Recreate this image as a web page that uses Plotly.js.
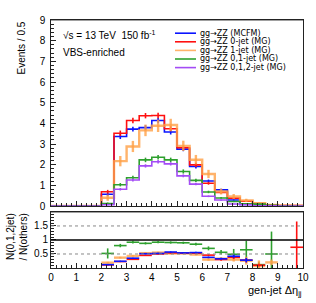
<!DOCTYPE html>
<html>
<head>
<meta charset="utf-8">
<script src="https://cdn.plot.ly/plotly-3.0.1.min.js"></script>
<style>html,body{margin:0;padding:0;background:#fff;}#chart{width:316px;height:303px;}</style>
</head>
<body>
<div id="chart"></div>
<script>
// ---- bins ----
const binEdges = [0,0.5,1,1.5,2,2.5,3,3.5,4,4.5,5,5.5,6,6.5,7,7.5,8,8.5,9,9.5,10];
const binCenters = [0.25,0.75,1.25,1.75,2.25,2.75,3.25,3.75,4.25,4.75,5.25,5.75,6.25,6.75,7.25,7.75,8.25,8.75,9.25,9.75];
const xTicks = [0,1,2,3,4,5,6,7,8,9,10];

// ---- upper panel: events / 0.5 ----
const seriesNames = ["gg\u2192ZZ (MCFM)","gg\u2192ZZ 0-jet (MG)","gg\u2192ZZ 1-jet (MG)","gg\u2192ZZ 0,1-jet (MG)","gg\u2192ZZ 0,1,2-jet (MG)"];
const mcfm      = [0,0,0,0,0.57,3.36,3.72,3.79,4.14,3.58,2.75,1.91,1.21,0.78,0.29,0.08,0.04,0.02,0.01,0.005];
const jet0      = [0,0,0,0,0.69,3.52,4.14,4.37,4.38,3.74,2.82,1.99,1.10,0.66,0.38,0.23,0.12,0.05,0.02,0.02];
const jet1      = [0,0,0,0,0.40,2.17,2.88,3.66,3.88,3.92,2.91,2.24,1.55,0.70,0.46,0.27,0.13,0.05,0.03,0.01];
const jet01     = [0,0,0,0,0.12,1.03,1.37,2.23,2.36,2.23,1.67,1.24,0.68,0.39,0.22,0.11,0.09,0.03,0.01,0];
const jet012    = [0,0,0,0,0.06,0.81,1.26,1.94,2.14,2.04,1.46,1.06,0.47,0.29,0.10,0.06,0.01,0.01,0,0];
const errMcfm   = [0,0,0,0,0.08,0.12,0.12,0.12,0.13,0.12,0.10,0.09,0.07,0.05,0.03,0.02,0.01,0.01,0.01,0];
const errJet0   = [0,0,0,0,0.09,0.13,0.13,0.13,0.13,0.12,0.11,0.10,0.07,0.06,0.05,0.03,0.02,0.01,0.01,0.01];
const errJet1   = [0,0,0,0,0.15,0.25,0.27,0.28,0.30,0.30,0.25,0.23,0.20,0.14,0.12,0.08,0.05,0.03,0.02,0.01];
const errJet01  = [0,0,0,0,0.05,0.08,0.09,0.11,0.11,0.11,0.10,0.08,0.06,0.04,0.03,0.03,0.02,0.01,0.01,0];
const errJet012 = [0,0,0,0,0.03,0.06,0.07,0.08,0.08,0.08,0.07,0.06,0.04,0.03,0.02,0.01,0.01,0.01,0,0];

// ---- lower panel: N(0,1,2jet)/N(others) ----
const ratioMcfm  = [null,null,null,null,0.12,0.24,0.35,0.51,0.52,0.57,0.54,0.55,0.38,0.33,0.42,0.28,null,null,null,null];
const ratioJet0  = [null,null,null,null,0.11,0.23,0.31,0.45,0.50,0.54,0.53,0.53,0.46,0.30,0.38,0.28,0.10,null,null,0.74];
const ratioJet1  = [null,null,null,null,0.19,0.37,0.43,0.53,0.55,0.52,0.52,0.48,0.30,0.33,0.30,0.26,0.07,0.20,null,null];
const ratioJet01 = [null,null,null,null,0.52,0.80,0.92,0.88,0.92,0.91,0.90,0.85,0.70,0.56,0.49,0.65,0.12,0.50,null,null];
const rErrMcfm   = [0,0,0,0,0.02,0.02,0.02,0.02,0.02,0.02,0.02,0.03,0.03,0.04,0.06,0.08,0,0,0,0];
const rErrJet0   = [0,0,0,0,0.02,0.02,0.02,0.02,0.02,0.02,0.02,0.03,0.03,0.04,0.06,0.08,0.05,0,0,0.92];
const rErrJet1   = [0,0,0,0,0.03,0.03,0.03,0.03,0.03,0.03,0.03,0.03,0.04,0.05,0.07,0.14,0.2,0.1,0,0];
const rErrJet01  = [0,0,0,0,0.18,0.06,0.05,0.04,0.04,0.04,0.04,0.05,0.07,0.08,0.19,0.32,0.1,0.8,0,0];

const colors = ["#0a14ff","#ff1010","rgba(255,160,70,0.8)","#2ea02e","#a44cf5"];
const widths = [1.6,1.6,2.4,1.6,1.6];

const upperSeries = [mcfm, jet0, jet1, jet01, jet012];
const upperErr = [errMcfm, errJet0, errJet1, errJet01, errJet012];

const traces = [];
upperSeries.forEach((vals, i) => {
  traces.push({
    type:'scatter', mode:'lines', x: binEdges, y: vals.concat([vals[vals.length-1]]),
    line:{shape:'hv', color:colors[i], width:widths[i]}, xaxis:'x', yaxis:'y',
    showlegend:false, hoverinfo:'skip'
  });
  traces.push({
    type:'scatter', mode:'markers', x: binCenters, y: vals,
    marker:{size:1, color:'rgba(0,0,0,0)'},
    error_y:{type:'data', array: upperErr[i], visible:true, color:colors[i], thickness:widths[i], width:0},
    xaxis:'x', yaxis:'y', showlegend:false, hoverinfo:'skip'
  });
});

const ratioSeries = [[ratioJet01, rErrJet01, 3],[ratioJet1, rErrJet1, 2],[ratioJet0, rErrJet0, 1],[ratioMcfm, rErrMcfm, 0]];
ratioSeries.forEach(([vals, errs, ci]) => {
  traces.push({
    type:'scatter', mode:'markers', x: binCenters, y: vals,
    marker:{size:1, color:'rgba(0,0,0,0)'},
    error_y:{type:'data', array: errs, visible:true, color:colors[ci], thickness:widths[ci], width:0},
    error_x:{type:'constant', value:0.25, visible:true, color:colors[ci], thickness:widths[ci], width:0},
    xaxis:'x2', yaxis:'y2', showlegend:false, hoverinfo:'skip'
  });
});

// paper coordinate helpers for annotations (plot area 51..303 x 20..268)
const L = 51, R = 303, T = 20, B = 268;
const px = v => (v - L) / (R - L);
const py = v => (B - v) / (B - T);
const FONT = 'Liberation Sans, Arial, sans-serif';

const annotations = [
  {xref:'paper', yref:'paper', x:px(61), y:py(35), xanchor:'left', yanchor:'middle', showarrow:false,
   text:'\u221As = 13 TeV  150 fb<sup>-1</sup>', font:{size:10, color:'#000', family:FONT}},
  {xref:'paper', yref:'paper', x:px(61), y:py(52), xanchor:'left', yanchor:'middle', showarrow:false,
   text:'VBS-enriched', font:{size:10, color:'#000', family:FONT}},
  {xref:'paper', yref:'paper', x:px(304), y:py(291), xanchor:'right', yanchor:'middle', showarrow:false,
   text:'gen-jet \u0394\u03B7<sub>jj</sub>', font:{size:11, color:'#000', family:FONT}},
  {xref:'paper', yref:'paper', x:px(21), y:py(20), xanchor:'center', yanchor:'top', showarrow:false, textangle:-90,
   text:'Events / 0.5', font:{size:10, color:'#000', family:FONT}},
  {xref:'paper', yref:'paper', x:px(16), y:py(212), xanchor:'center', yanchor:'top', showarrow:false, textangle:-90,
   align:'right', text:'N(0,1,2jet)<br>/ N(others)', font:{size:10, color:'#000', family:FONT}}
];
const shapes = [
  {type:'line', xref:'x2', yref:'y2', x0:0, x1:10, y0:1, y1:1, line:{color:'#000', width:1.5}},
  {type:'line', xref:'x2', yref:'y2', x0:0, x1:10, y0:0.5, y1:0.5, line:{color:'#888', width:1, dash:'dot'}},
  {type:'line', xref:'x2', yref:'y2', x0:0, x1:10, y0:1.5, y1:1.5, line:{color:'#888', width:1, dash:'dot'}},
  {type:'line', xref:'x', yref:'y', x0:0, x1:10, y0:9, y1:9, line:{color:'#a0a0a0', width:2}},
  {type:'line', xref:'x2', yref:'y2', x0:0, x1:10, y0:2, y1:2, line:{color:'#a0a0a0', width:2}}
];
const legendRows = [33.2, 41.8, 50.4, 59.0, 67.6];
seriesNames.forEach((name, i) => {
  shapes.push({type:'line', xref:'paper', yref:'paper', x0:px(175), x1:px(196), y0:py(legendRows[i]), y1:py(legendRows[i]),
    line:{color:colors[i], width:1.6}});
  annotations.push({xref:'paper', yref:'paper', x:px(199), y:py(legendRows[i]), xanchor:'left', yanchor:'middle',
    showarrow:false, borderpad:0, text:name, font:{size:8, color:'#000', family:'DejaVu Sans, sans-serif'}});
});

const axisCommon = {showgrid:false, zeroline:false, linecolor:'#222', linewidth:1, mirror:true,
  ticks:'inside', ticklen:5, tickcolor:'#222', tickfont:{size:10, color:'#000', family:FONT}};

const layout = {
  width:316, height:303,
  margin:{l:51, r:13, t:20, b:35},
  paper_bgcolor:'#fff', plot_bgcolor:'#fff',
  font:{family:FONT, color:'#000'},
  showlegend:false, hovermode:false,
  xaxis: Object.assign({}, axisCommon, {domain:[0,1], range:[0,10], anchor:'y', tickvals:xTicks, showticklabels:false,
    minor:{dtick:0.2, ticks:'inside', ticklen:3, tickcolor:'#222'}}),
  yaxis: Object.assign({}, axisCommon, {domain:[0.25,1], range:[0,9], anchor:'x', dtick:1, ticksuffix:' ',
    minor:{dtick:0.2, ticks:'inside', ticklen:3, tickcolor:'#222'}}),
  xaxis2: Object.assign({}, axisCommon, {domain:[0,1], range:[0,10], anchor:'y2', tickvals:xTicks,
    minor:{dtick:0.2, ticks:'inside', ticklen:3, tickcolor:'#222'}}),
  yaxis2: Object.assign({}, axisCommon, {domain:[0,0.226], range:[0,2], anchor:'x2', tickvals:[0.5,1,1.5], ticktext:['0.5','1','1.5'],
    ticksuffix:' ', minor:{dtick:0.1, ticks:'inside', ticklen:3, tickcolor:'#222'}}),
  annotations: annotations,
  shapes: shapes
};

Plotly.newPlot('chart', traces, layout, {staticPlot:true, displayModeBar:false});
</script>
</body>
</html>
